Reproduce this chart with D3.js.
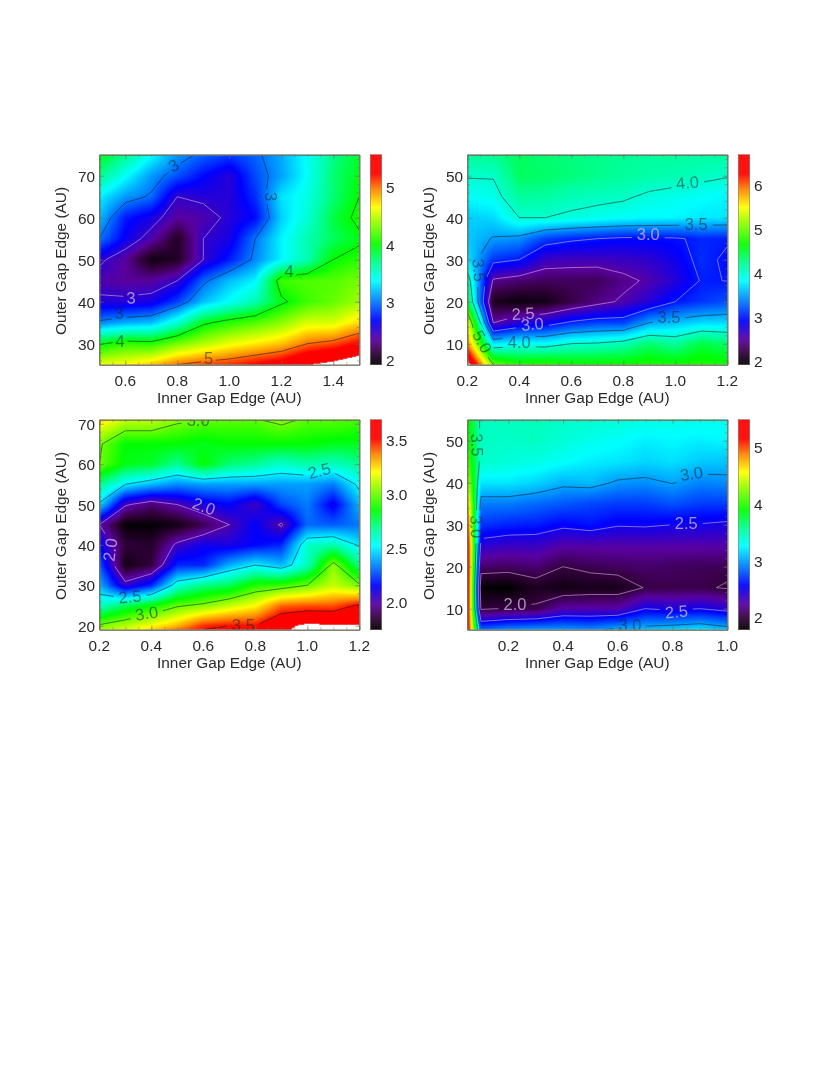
<!DOCTYPE html>
<html><head><meta charset="utf-8">
<style>html,body{margin:0;padding:0;background:#fff}svg{display:block;filter:blur(0.45px)}text{font-family:"Liberation Sans",Arial,sans-serif;fill:#2a2a2a}</style>
<script src="https://cdn.jsdelivr.net/npm/d3@7/dist/d3.min.js"></script>
</head><body><script>
// ---------- Panel 1 ----------
const p1Inner=[0.5,0.6,0.7,0.8,0.9,1.0,1.1,1.2,1.3,1.4,1.5];
const p1Outer=[75,70,65,60,55,50,45,40,35,30,25];
const p1Values=[
[3.95,3.7,3.4,3.1,2.95,2.85,2.95,3.15,3.4,3.7,3.9],
[3.7,3.4,3.1,2.9,2.7,2.55,2.88,3.12,3.4,3.75,3.95],
[3.35,3.1,2.97,2.5,2.55,2.55,2.8,3.3,3.45,3.75,4.0],
[3.2,2.75,2.6,2.35,2.4,2.55,2.7,3.25,3.5,3.85,4.07],
[3.0,2.65,2.4,2.05,2.5,2.6,3.0,3.35,3.6,3.8,3.95],
[2.55,2.35,1.98,2.05,2.5,2.75,3.05,3.35,3.6,4.0,4.1],
[2.4,2.35,2.35,2.5,2.95,3.2,3.35,4.15,4.2,4.2,4.3],
[2.55,2.55,2.6,2.85,3.2,3.4,3.6,3.95,4.15,4.25,4.4],
[3.05,3.15,3.2,3.5,3.95,4.1,4.2,4.35,4.55,4.55,4.75],
[3.97,4.12,4.09,4.3,4.45,4.6,4.7,4.8,5.0,5.08,5.25],
[4.6,4.65,4.8,5.0,5.1,5.15,5.25,5.35,5.55,5.65,5.8]];
const p1XTicks=[0.6,0.8,1.0,1.2,1.4], p1YTicks=[30,40,50,60,70], p1BarTicks=[2,3,4,5];
const p1Levels=[2.5,3,4,5];
// ---------- Panel 2 ----------
const p2Inner=[0.2,0.3,0.4,0.5,0.6,0.7,0.8,0.9,1.0,1.1,1.2];
const p2Outer=[55,50,45,40,35,30,25,20,15,10,5];
const p2Values=[
[4.2,4.25,4.38,4.32,4.28,4.25,4.22,4.2,4.2,4.18,4.18],
[4.02,4.02,4.38,4.35,4.3,4.25,4.2,4.15,4.12,4.07,4.02],
[3.85,3.9,4.2,4.18,4.1,4.07,4.04,3.95,3.9,3.85,3.8],
[3.65,3.7,4.0,4.0,3.95,3.9,3.85,3.82,3.8,3.75,3.75],
[3.65,3.48,3.42,3.15,3.05,3.0,2.95,2.95,2.97,3.05,3.03],
[3.75,3.1,3.0,2.65,2.62,2.62,2.65,2.7,2.85,3.08,2.95],
[4.2,2.45,2.35,2.3,2.3,2.28,2.42,2.55,2.75,3.02,2.995],
[4.5,2.05,1.98,2.02,2.22,2.4,2.55,2.75,3.0,3.1,3.2],
[5.5,2.5,2.75,2.85,3.05,3.15,3.15,3.5,3.6,3.7,3.7],
[5.9,3.75,3.88,3.85,4.0,4.03,4.12,4.33,4.2,4.45,4.35],
[6.9,5.0,4.75,4.8,4.7,4.7,4.7,4.75,4.7,4.75,4.7]];
const p2XTicks=[0.2,0.4,0.6,0.8,1.0,1.2], p2YTicks=[10,20,30,40,50], p2BarTicks=[2,3,4,5,6];
const p2Levels=[2.5,3,3.5,4,5];
// ---------- Panel 3 ----------
const p3Inner=[0.2,0.3,0.4,0.5,0.6,0.7,0.8,0.9,1.0,1.1,1.2];
const p3Outer=[71,70,65,60,55,50,45,40,35,30,25,20,19];
const p3Values=[
[3.3,3.12,3.1,3.05,3.0,3.0,2.99,3.05,2.97,2.97,2.95],
[3.2,3.08,3.08,3.0,2.96,2.95,2.95,3.01,2.95,2.95,2.92],
[3.02,2.85,2.85,2.85,2.82,2.85,2.85,2.85,2.85,2.82,2.82],
[3.0,2.83,2.8,2.68,2.85,2.72,2.68,2.6,2.65,2.62,2.68],
[2.7,2.5,2.42,2.35,2.38,2.38,2.38,2.38,2.38,2.33,2.53],
[2.48,2.02,1.92,2.0,2.1,2.15,2.03,2.25,2.33,2.12,2.42],
[2.0,1.75,1.75,1.78,1.88,2.0,2.15,1.98,2.3,2.28,2.32],
[2.15,1.85,1.82,2.03,2.12,2.1,2.15,2.2,2.6,2.65,2.48],
[2.28,1.78,1.85,2.2,2.2,2.4,2.5,2.42,2.62,3.05,2.7],
[2.42,2.05,2.2,2.58,2.7,2.75,2.9,2.92,3.0,3.12,3.02],
[2.6,2.75,2.85,2.98,3.03,3.12,3.2,3.4,3.42,3.42,3.52],
[3.02,3.1,3.2,3.3,3.47,3.5,3.5,3.65,3.72,3.7,3.7],
[3.05,3.15,3.25,3.4,3.5,3.52,3.5,3.66,3.74,3.73,3.73]];
const p3XTicks=[0.2,0.4,0.6,0.8,1.0,1.2], p3YTicks=[20,30,40,50,60,70], p3BarTicks=[2.0,2.5,3.0,3.5];
const p3Levels=[2,2.5,3,3.5];
// ---------- Panel 4 ----------
const p4Inner=[0.05,0.1,0.2,0.3,0.4,0.5,0.6,0.7,0.8,0.9,1.0];
const p4Outer=[55,50,45,40,35,30,25,20,15,10,5];
const p4Values=[
[3.95,3.45,3.45,3.47,3.42,3.4,3.38,3.35,3.33,3.33,3.32],
[4.0,3.44,3.42,3.44,3.38,3.32,3.28,3.22,3.25,3.22,3.25],
[4.12,3.42,3.38,3.34,3.28,3.22,3.2,3.15,3.18,3.12,3.1],
[4.4,3.2,3.2,3.15,3.05,3.08,2.97,2.95,3.01,2.92,2.94],
[4.8,2.9,2.9,2.85,2.8,2.75,2.72,2.72,2.78,2.72,2.72],
[5.1,2.7,2.65,2.63,2.55,2.6,2.52,2.53,2.5,2.49,2.46],
[5.4,2.4,2.35,2.35,2.25,2.25,2.25,2.25,2.25,2.25,2.25],
[5.5,2.1,2.08,2.12,2.0,2.05,2.08,2.1,2.08,2.06,2.05],
[5.5,1.8,1.78,1.9,1.85,1.88,1.88,2.01,2.03,2.03,1.98],
[5.45,1.97,2.02,2.03,2.25,2.25,2.25,2.5,2.45,2.5,2.42],
[5.4,2.85,2.95,3.0,2.99,2.95,3.05,3.1,3.15,3.2,3.1]];
const p4XTicks=[0.2,0.4,0.6,0.8,1.0], p4YTicks=[10,20,30,40,50], p4BarTicks=[2,3,4,5];
const p4Levels=[2,2.5,3,3.5];
// ---------- Contour labels: level, inner, outer, rotation ----------
const p1Labels=[[2.5,.622,41,-3],[3,.576,37.4,-5],[4,.58,30.7,0],[5,.92,26.7,0],[4,1.23,47.3,0],[3,.785,72.5,-30],[3,1.16,65,90]];
const p2Labels=[[4,1.047,48.4,-5],[3.5,1.08,38.6,0],[3,.896,36,0],[3,.45,14.7,-5],[2.5,.415,17.2,-3],[3.5,.976,16.3,0],[4,.4,10.3,0],[3.5,.246,27.5,85],[5,.258,10.5,62]];
const p3Labels=[[2,.603,49.6,20],[2,.241,38.8,-82],[2.5,1.046,58.4,-15],[2.5,.318,27.2,-5],[3,.382,23.1,-8],[3.5,.754,20.2,0],[3,.58,70.8,0]];
const p4Labels=[[3,.869,42.2,-8],[2.5,.85,30.3,0],[2,.224,11.1,0],[2.5,.814,9.3,-5],[3,.644,6.1,0],[3.5,.0865,49,88],[3,.084,29.5,88]];
// ---------- Colour table ----------
const cmapStops=[0,0.06,0.12,0.21,0.31,0.40,0.48,0.57,0.75,0.83,0.91,1];
const cmapColors=["#000000","#35003f","#5a00a0","#0000ff","#0088ff","#00ffff","#00ff99","#00ff00","#ffff00","#ff8c00","#ff0000","#ff0000"];

const cmap=d3.scaleLinear().domain(cmapStops).range(cmapColors).interpolate(d3.interpolateRgb);
const lut=d3.range(513).map(i=>d3.rgb(cmap(i/512)));
const W=830,H=1075,PW=260,PH=210;
const svg=d3.select("body").append("svg").attr("width",W).attr("height",H);
svg.append("rect").attr("width",W).attr("height",H).attr("fill","#fff");

const panels=[
 {id:1,left:99.3,top:154.7,xd:[.5,1.5],yd:[25,75],bar:[1.92,5.56],inner:p1Inner,outer:p1Outer,values:p1Values,xt:p1XTicks,yt:p1YTicks,bt:p1BarTicks,levels:p1Levels,labels:p1Labels,light:[2.5],fmtL:d3.format("d"),fmtB:d3.format("d"),ylab:66,yTickR:95,barL:370.3},
 {id:2,left:467.3,top:154.7,xd:[.2,1.2],yd:[5,55],bar:[1.92,6.69],inner:p2Inner,outer:p2Outer,values:p2Values,xt:p2XTicks,yt:p2YTicks,bt:p2BarTicks,levels:p2Levels,labels:p2Labels,light:[2.5,3],fmtL:d3.format(".1f"),fmtB:d3.format("d"),ylab:434,yTickR:463,barL:738.3},
 {id:3,left:99.3,top:419.7,xd:[.2,1.2],yd:[19,71],bar:[1.74,3.69],inner:p3Inner,outer:p3Outer,values:p3Values,xt:p3XTicks,yt:p3YTicks,bt:p3BarTicks,levels:p3Levels,labels:p3Labels,light:[2],fmtL:d3.format(".1f"),fmtB:d3.format(".1f"),ylab:66,yTickR:95,barL:370.3},
 {id:4,left:467.3,top:419.7,xd:[.05,1.0],yd:[5,55],bar:[1.78,5.49],inner:p4Inner,outer:p4Outer,values:p4Values,xt:p4XTicks,yt:p4YTicks,bt:p4BarTicks,levels:p4Levels,labels:p4Labels,light:[2,2.5],fmtL:d3.format(".1f"),fmtB:d3.format("d"),ylab:434,yTickR:463,barL:738.3}
];
const defs=svg.append("defs");
const FS=15.4, AX="#6e6e60";

function stepTicks(domain,step){
  const out=[];const a=Math.ceil(domain[0]/step-1e-6),b=Math.floor(domain[1]/step+1e-6);
  for(let k=a;k<=b;k++)out.push(+(k*step).toFixed(4));return out;
}
panels.forEach(p=>{
  const g=svg.append("g").attr("transform",`translate(${p.left},${p.top})`);
  const x=d3.scaleLinear().domain(p.xd).range([0,PW]);
  const y=d3.scaleLinear().domain(p.yd).range([PH,0]);
  const n=p.inner.length,m=p.outer.length;
  const ix=d3.scaleLinear().domain(d3.range(n)).range(p.inner).clamp(true);
  const iy=d3.scaleLinear().domain(d3.range(m)).range(p.outer).clamp(true);
  const bar=d3.scaleLinear().domain(p.bar).range([PH,0]);
  const norm=d3.scaleLinear().domain(p.bar).range([0,1]);
  // Heat image from bilinear sampling through the scales
  const cv=document.createElement("canvas");cv.width=PW;cv.height=PH;
  const ctx=cv.getContext("2d");const im=ctx.createImageData(PW,PH);
  for(let py=0;py<PH;py++){
    const fy=Math.max(0,Math.min(m-1.000001,iy.invert(y.invert(py+.5))));
    const j=Math.floor(fy),ty=fy-j;
    for(let px=0;px<PW;px++){
      const fx=Math.max(0,Math.min(n-1.000001,ix.invert(x.invert(px+.5))));
      const i=Math.floor(fx),tx=fx-i;
      const v=p.values[j][i]*(1-tx)*(1-ty)+p.values[j][i+1]*tx*(1-ty)+p.values[j+1][i]*(1-tx)*ty+p.values[j+1][i+1]*tx*ty;
      const t=norm(v);const o=(py*PW+px)*4;
      if(t>1){im.data[o]=im.data[o+1]=im.data[o+2]=255;}
      else{const c=lut[Math.round(Math.max(0,t)*512)];im.data[o]=c.r;im.data[o+1]=c.g;im.data[o+2]=c.b;}
      im.data[o+3]=255;
    }
  }
  ctx.putImageData(im,0,0);
  g.append("image").attr("width",PW).attr("height",PH).attr("href",cv.toDataURL());
  // clip + gaps for labels
  defs.append("clipPath").attr("id","clip"+p.id).append("rect").attr("width",PW).attr("height",PH);
  const mask=defs.append("mask").attr("id","gap"+p.id).attr("maskUnits","userSpaceOnUse").attr("x",0).attr("y",0).attr("width",PW).attr("height",PH);
  mask.append("rect").attr("width",PW).attr("height",PH).attr("fill","#fff");
  const lw=v=>p.fmtL(v).length===1?15:33;
  mask.selectAll("rect.g").data(p.labels).join("rect").attr("class","g")
    .attr("x",d=>-lw(d[0])/2).attr("y",-7).attr("width",d=>lw(d[0])).attr("height",14).attr("fill","#000")
    .attr("transform",d=>`translate(${x(d[1])},${y(d[2])}) rotate(${d[3]})`);
  // Contours: d3.contours on the grid, mapped by the index scales; domain-edge pieces removed
  const flat=p.values.flat();
  const contours=d3.contours().size([n,m]).smooth(true).thresholds(p.levels)(flat);
  const lg=g.append("g").attr("clip-path",`url(#clip${p.id})`);
  const cg=lg.append("g").attr("mask",`url(#gap${p.id})`);
  const line=d3.line();
  contours.forEach(c=>{
    const paths=[];
    c.coordinates.forEach(poly=>poly.forEach(ring=>{
      const pts=ring.slice(0,-1).map(q=>[q[0]-.5,q[1]-.5]);
      const ok=q=>q[0]>=-1e-6&&q[0]<=n-1+1e-6&&q[1]>=-1e-6&&q[1]<=m-1+1e-6;
      const L=pts.length;let s=pts.findIndex(q=>!ok(q));
      if(s<0){paths.push(pts.concat([pts[0]]));return;}
      let cur=[];
      for(let k=1;k<=L;k++){const q=pts[(s+k)%L];
        if(ok(q))cur.push(q);else{if(cur.length>1)paths.push(cur);cur=[];}}
      if(cur.length>1)paths.push(cur);
    }));
    const isLight=p.light.includes(c.value);
    paths.forEach(pl=>cg.append("path")
      .attr("d",line(pl.map(q=>[x(ix(q[0])),y(iy(q[1]))])))
      .attr("fill","none").attr("stroke",isLight?"#c8b4d8":"#101a1a").attr("stroke-opacity",isLight?.8:.72).attr("stroke-width",.75));
  });
  lg.selectAll("text.cl").data(p.labels).join("text").attr("class","cl")
    .attr("transform",d=>`translate(${x(d[1])},${y(d[2])}) rotate(${d[3]})`)
    .attr("text-anchor","middle").attr("dy","0.36em").attr("font-size",16.5)
    .style("fill",d=>p.light.includes(d[0])?"#c8b4d8":"#102028").attr("fill-opacity",d=>p.light.includes(d[0])?.8:.55)
    .text(d=>p.fmtL(d[0]));
  // Frame and ticks via d3 axes
  const sx=(p.xt[1]-p.xt[0])/4, sy=(p.yt[1]-p.yt[0])/5;
  const xMin=stepTicks(p.xd,sx), yMin=stepTicks(p.yd,sy);
  function ax(gen,tx,ty){const a=g.append("g").attr("transform",`translate(${tx},${ty})`).call(gen);
    a.selectAll("path.domain").attr("stroke",AX).attr("stroke-width",.9);a.selectAll("line").attr("stroke",AX).attr("stroke-width",.5);
    a.selectAll("text").remove();return a;}
  ax(d3.axisBottom(x).tickValues(xMin).tickSize(-2.4).tickSizeOuter(0),0,PH);
  ax(d3.axisBottom(x).tickValues(p.xt).tickSize(-4.5).tickSizeOuter(0),0,PH);
  ax(d3.axisTop(x).tickValues(xMin).tickSize(-2.4).tickSizeOuter(0),0,0);
  ax(d3.axisTop(x).tickValues(p.xt).tickSize(-4.5).tickSizeOuter(0),0,0);
  ax(d3.axisLeft(y).tickValues(yMin).tickSize(-2.4).tickSizeOuter(0),0,0);
  ax(d3.axisLeft(y).tickValues(p.yt).tickSize(-4.5).tickSizeOuter(0),0,0);
  ax(d3.axisRight(y).tickValues(yMin).tickSize(-2.4).tickSizeOuter(0),PW,0);
  ax(d3.axisRight(y).tickValues(p.yt).tickSize(-4.5).tickSizeOuter(0),PW,0);
  // Tick labels
  const txt=(sel)=>sel.attr("font-size",FS);
  txt(g.selectAll("text.xt").data(p.xt).join("text").attr("class","xt").attr("x",d=>x(d)).attr("y",PH+21.3).attr("text-anchor","middle").text(d3.format(".1f")));
  txt(g.selectAll("text.yt").data(p.yt).join("text").attr("class","yt").attr("x",p.yTickR-p.left).attr("y",d=>y(d)+6.2).attr("text-anchor","end").text(d3.format("d")));
  txt(g.append("text").attr("x",PW/2).attr("y",PH+38.7).attr("text-anchor","middle").text("Inner Gap Edge (AU)"));
  txt(g.append("text").attr("transform",`translate(${p.ylab-p.left},${PH/2+1.2}) rotate(-90)`).attr("text-anchor","middle").text("Outer Gap Edge (AU)"));
  // Colour bar
  const bg=svg.append("g").attr("transform",`translate(${p.barL},${p.top})`);
  const bw=11.4;
  bg.selectAll("rect.c").data(d3.range(PH)).join("rect").attr("class","c").attr("x",0).attr("y",d=>d).attr("width",bw).attr("height",1.2)
    .attr("fill",d=>lut[Math.round(norm(bar.invert(d+.5))*512)].toString());
  bg.append("rect").attr("width",bw).attr("height",PH).attr("fill","none").attr("stroke",AX).attr("stroke-width",.5);
  txt(bg.selectAll("text.bt").data(p.bt).join("text").attr("class","bt").attr("x",bw+4.3).attr("y",d=>bar(d)+6).text(p.fmtB));
});
</script></body></html>
